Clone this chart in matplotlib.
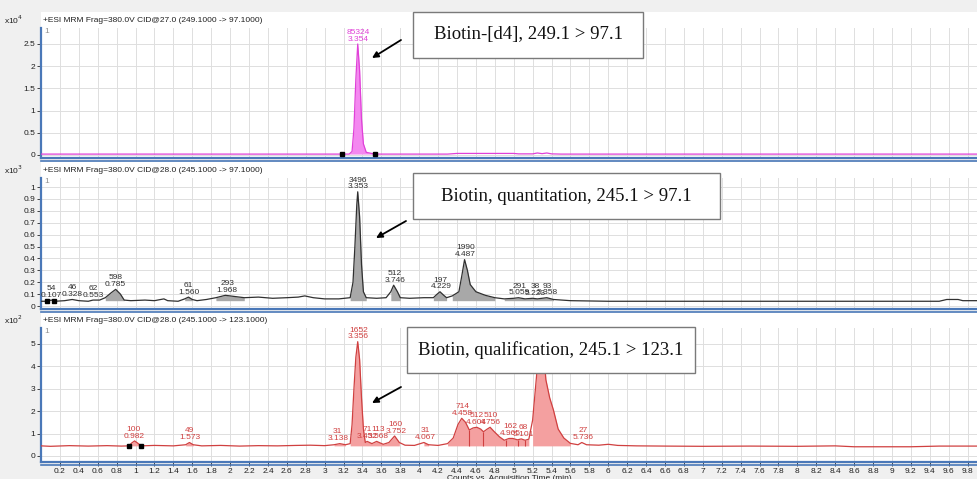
import numpy as np
import matplotlib.pyplot as plt
from matplotlib.patches import Rectangle
from matplotlib.lines import Line2D

# ---- data ----
# top: Biotin-[d4] 249.1 -> 97.1 (x10^4 counts)
t_d4 = [0, 0.5, 1.0, 1.5, 2.0, 2.5, 3.0, 3.18, 3.26, 3.29, 3.31, 3.33, 3.35, 3.37, 3.39,
        3.41, 3.44, 3.53, 3.8, 4.3, 4.4, 4.6, 4.8, 5.0, 5.05, 5.2, 5.25, 5.3, 5.35, 5.4,
        5.5, 6, 7, 8, 9, 9.9]
y_d4 = [0.02, 0.02, 0.02, 0.02, 0.02, 0.02, 0.02, 0.02, 0.02, 0.08, 0.6, 1.7, 2.5, 1.9, 0.8,
        0.25, 0.06, 0.02, 0.02, 0.02, 0.035, 0.035, 0.035, 0.035, 0.025, 0.025, 0.045, 0.03, 0.045, 0.025,
        0.02, 0.02, 0.02, 0.02, 0.02, 0.02]

# middle: Biotin quantifier 245.1 -> 97.1 (x10^3 counts)
t_q = [0.0, 0.07, 0.107, 0.15, 0.25, 0.33, 0.40, 0.50, 0.55, 0.62, 0.68, 0.74, 0.79, 0.84,
       0.88, 0.95, 1.1, 1.2, 1.3, 1.34, 1.45, 1.52, 1.56, 1.6, 1.65, 1.75, 1.85, 1.95, 2.05,
       2.15, 2.3, 2.45, 2.6, 2.72, 2.79, 2.88, 3.0, 3.15, 3.27, 3.30, 3.32, 3.34, 3.35, 3.37,
       3.39, 3.41, 3.44, 3.55, 3.65, 3.70, 3.73, 3.77, 3.80, 3.9, 4.05, 4.15, 4.19, 4.22,
       4.26, 4.29, 4.35, 4.42, 4.45, 4.48, 4.51, 4.54, 4.6, 4.7, 4.8, 4.9, 5.0, 5.05, 5.12,
       5.2, 5.25, 5.35, 5.42, 5.6, 6.0, 7.0, 8.0, 9.5, 9.58, 9.7, 9.75, 9.9]
y_q = [0.04, 0.04, 0.05, 0.04, 0.045, 0.055, 0.045, 0.04, 0.05, 0.05, 0.07, 0.11, 0.14, 0.10,
       0.05, 0.045, 0.05, 0.045, 0.06, 0.045, 0.04, 0.06, 0.075, 0.055, 0.045, 0.055, 0.07, 0.09, 0.08,
       0.07, 0.075, 0.065, 0.07, 0.075, 0.085, 0.07, 0.06, 0.06, 0.07, 0.2, 0.5, 0.85, 0.96, 0.75,
       0.35, 0.12, 0.07, 0.065, 0.07, 0.12, 0.175, 0.12, 0.07, 0.065, 0.07, 0.07, 0.1, 0.12,
       0.09, 0.07, 0.085, 0.12, 0.25, 0.39, 0.3, 0.18, 0.12, 0.09, 0.07, 0.06, 0.065, 0.07, 0.06,
       0.065, 0.06, 0.07, 0.055, 0.045, 0.04, 0.04, 0.04, 0.04, 0.055, 0.055, 0.045, 0.045]

# bottom: Biotin qualifier 245.1 -> 123.1 (x10^2 counts)
t_ql = [0, 0.1, 0.3, 0.5, 0.7, 0.85, 0.93, 0.96, 0.99, 1.02, 1.06, 1.2, 1.4, 1.53, 1.57, 1.61,
        1.7, 1.9, 2.1, 2.3, 2.5, 2.7, 2.85, 3.0, 3.1, 3.16, 3.22, 3.27, 3.29, 3.31, 3.33, 3.35,
        3.37, 3.39, 3.41, 3.43, 3.45, 3.5, 3.55, 3.62, 3.68, 3.74, 3.79, 3.85, 3.95, 4.05, 4.1,
        4.2, 4.3, 4.36, 4.41, 4.45, 4.49, 4.53, 4.57, 4.61, 4.65, 4.68, 4.72, 4.75, 4.79, 4.85,
        4.9, 4.95, 4.99, 5.04, 5.08, 5.12, 5.16, 5.2, 5.24, 5.27, 5.30, 5.32, 5.34, 5.38, 5.42,
        5.47, 5.53, 5.6, 5.68, 5.72, 5.77, 5.9, 6.0, 6.1, 6.3, 6.6, 7.0, 7.5, 8.0, 8.4, 8.6,
        9.2, 9.5, 9.9]
y_ql = [0.45, 0.43, 0.46, 0.44, 0.46, 0.44, 0.45, 0.58, 0.67, 0.58, 0.45, 0.47, 0.45, 0.5, 0.6, 0.5,
        0.45, 0.47, 0.44, 0.46, 0.45, 0.47, 0.48, 0.46, 0.5, 0.55, 0.5, 0.55, 1.4, 3.0, 4.4, 5.1,
        4.3, 2.6, 1.2, 0.6, 0.65, 0.55, 0.65, 0.52, 0.6, 0.89, 0.6, 0.48, 0.47, 0.6, 0.5,
        0.47, 0.55, 0.8, 1.4, 1.68, 1.5, 1.16, 1.25, 1.28, 1.2, 1.08, 1.2, 1.28, 1.1, 0.85,
        0.7, 0.78, 0.78, 0.72, 0.76, 0.7, 0.75, 1.6, 3.5, 5.0, 5.6, 4.5, 3.4, 2.6, 2.05,
        1.2, 0.8, 0.56, 0.5, 0.6, 0.5, 0.48, 0.52, 0.47, 0.45, 0.44, 0.43, 0.44, 0.43, 0.45, 0.41,
        0.41, 0.44, 0.44]

# peak labels: (retention time shown, area)
lab_d4 = [(3.354, 85324)]
lab_q = [(0.107, 54), (0.328, 46), (0.553, 62), (0.785, 598), (1.560, 61), (1.968, 293),
         (3.353, 3496), (3.746, 512), (4.229, 197), (4.487, 1990), (5.059, 291),
         (5.223, 38), (5.358, 93)]
lab_ql = [(0.982, 100), (1.573, 49), (3.138, 31), (3.356, 1652), (3.452, 71), (3.568, 113),
          (3.752, 160), (4.067, 31), (4.458, 714), (4.604, 512), (4.756, 510), (4.965, 162),
          (5.101, 68), (5.736, 27)]

# integration windows (filled), baseline level, and split points
win_d4 = [(3.18, 3.53)]
win_q = [(0.65, 0.9), (1.5, 1.62), (1.82, 2.2), (3.27, 3.45), (3.66, 3.82), (4.15, 4.3),
         (4.33, 4.8), (4.9, 5.5)]
win_ql = [(0.93, 1.06), (1.52, 1.62), (3.1, 3.22), (3.26, 3.82), (4.0, 4.1), (4.3, 5.17),
          (5.17, 5.62), (5.69, 5.76)]
base_d4, base_q, base_ql = 0.02, 0.045, 0.45
split_ql = [4.53, 4.68, 4.92, 5.04, 5.12]

marks_d4 = [3.18, 3.53]
marks_q = [0.06, 0.14]
marks_ql = [0.93, 1.06]

headers = ['+ESI MRM Frag=380.0V CID@27.0 (249.1000 -> 97.1000)',
           '+ESI MRM Frag=380.0V CID@28.0 (245.1000 -> 97.1000)',
           '+ESI MRM Frag=380.0V CID@28.0 (245.1000 -> 123.1000)']
boxes = ['Biotin-[d4], 249.1 > 97.1',
         'Biotin, quantitation, 245.1 > 97.1',
         'Biotin, qualification, 245.1 > 123.1']

W, H = 977, 479
plt.rcParams['font.family'] = ['Liberation Sans', 'DejaVu Sans']
fig = plt.figure(figsize=(W / 100, H / 100), dpi=100, facecolor='#f0f0f0')


def fx(x):
    return x / W


def fy(y):
    return 1 - y / H


BLUE = '#4a78b8'
L, R = 41, 977
# panel: (white top, plot top, plot bottom, ylim, yticks, exponent)
panels = [
    (12, 28, 158, (-0.068, 2.86), np.arange(0, 2.51, 0.5), 4),
    (162, 178, 309, (-0.025, 1.076), np.arange(0, 1.01, 0.1), 3),
    (312, 328, 462, (-0.27, 5.71), np.arange(0, 5.1, 1), 2),
]
series = [
    (t_d4, y_d4, '#e040d8', '#f488f0', lab_d4, win_d4, base_d4, marks_d4),
    (t_q, y_q, '#303030', '#a8a8a8', lab_q, win_q, base_q, marks_q),
    (t_ql, y_ql, '#d04040', '#f4a0a0', lab_ql, win_ql, base_ql, marks_ql),
]

axes = []
for i, (wtop, top, bot, ylim, yt, ex) in enumerate(panels):
    fig.add_artist(Rectangle((fx(L), fy(bot)), fx(R - L), fy(wtop) - fy(bot),
                             transform=fig.transFigure, facecolor='white', edgecolor='none', zorder=0))
    ax = fig.add_axes([fx(L), fy(bot), fx(R - L), fy(top) - fy(bot)])
    ax.set_xlim(0, 9.9)
    ax.set_ylim(*ylim)
    ax.set_yticks(yt)
    ax.set_yticklabels(['%g' % round(v, 2) for v in yt])
    ax.set_xticks(np.arange(0.2, 9.81, 0.2))
    ax.grid(True, color='#dedede', lw=0.7)
    ax.set_axisbelow(True)
    for s in ['top', 'right']:
        ax.spines[s].set_visible(False)
    for s in ['left', 'bottom']:
        ax.spines[s].set_color(BLUE)
        ax.spines[s].set_linewidth(1.6)
    ax.tick_params(labelsize=6, length=3, width=0.7, color='#404040', labelcolor='#202020', pad=1)
    if i < 2:
        ax.tick_params(axis='x', length=0, labelbottom=False)
    else:
        ax.set_xticklabels(['%g' % round(v, 1) for v in np.arange(0.2, 9.81, 0.2)])
    fig.add_artist(Line2D([fx(L), 1], [fy(bot + 3), fy(bot + 3)], color=BLUE, lw=1.2))
    fig.text(fx(4), fy(top - 8), 'x10$^{%d}$' % ex, fontsize=6, va='center', color='#202020')
    fig.text(fx(43), fy(top - 8), headers[i], fontsize=6, va='center', color='#202020')
    ax.text(0.04, ylim[1], '1', fontsize=6, color='#909090', va='top')
    axes.append(ax)

for ax, (t, y, lc, fc, labs, wins, base, marks) in zip(axes, series):
    t = np.array(t)
    y = np.array(y)
    for a, b in wins:
        m = (t >= a) & (t <= b)
        ax.fill_between(t[m], np.maximum(y[m], base), base, color=fc, lw=0, zorder=2)
    ax.plot(t, y, color=lc, lw=0.9, zorder=3)
    ax.plot(marks, np.interp(marks, t, y), 's', color='black', ms=3, zorder=4)
    for rt, area in labs:
        m = np.abs(t - rt) < 0.04
        top_y = y[m].max() if m.any() else np.interp(rt, t, y)
        ax.annotate('%d\n%.3f' % (area, rt), (rt, top_y), xytext=(0, 1), textcoords='offset points',
                    ha='center', va='bottom', fontsize=6, color=lc, linespacing=0.95, zorder=5)

t3 = np.array(t_ql)
y3 = np.array(y_ql)
axes[2].vlines(split_ql, base_ql, np.interp(split_ql, t3, y3), color='#d04040', lw=0.8, zorder=3)
axes[2].set_xlabel('Counts vs. Acquisition Time (min)', fontsize=6, color='#202020', labelpad=0)

# annotation boxes and arrows (image pixel positions)
box_pos = [(413, 12, 643, 58), (413, 173, 720, 219), (407, 327, 695, 373)]
arrows = [((401, 40), (372, 58)), ((406, 221), (376, 238)), ((401, 387), (372, 403))]
for txt, (x0, y0, x1, y1), ((ax0, ay0), (ax1, ay1)) in zip(boxes, box_pos, arrows):
    fig.add_artist(Rectangle((fx(x0), fy(y1)), fx(x1 - x0), fy(y0) - fy(y1), transform=fig.transFigure,
                             facecolor='white', edgecolor='#7a7a7a', lw=1, zorder=10))
    fig.text(fx((x0 + x1) / 2), fy((y0 + y1) / 2), txt, family='Liberation Serif', fontsize=13.5,
             ha='center', va='center', color='#111111', zorder=11)
    fig.add_artist(plt.Annotation('', xy=(fx(ax1), fy(ay1)), xytext=(fx(ax0), fy(ay0)),
                                  xycoords='figure fraction', textcoords='figure fraction',
                                  arrowprops=dict(arrowstyle='-|>', color='black', lw=1.3,
                                                  mutation_scale=9, shrinkA=0, shrinkB=0),
                                  zorder=11))

fig.savefig('out.png', dpi=100, facecolor=fig.get_facecolor())
